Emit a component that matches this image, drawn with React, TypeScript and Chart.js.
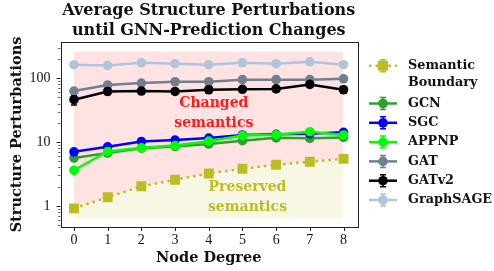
import React, { useEffect, useRef } from 'react';
import { Chart, registerables } from 'chart.js';

Chart.register(...registerables);

// ---------- data ----------
const degrees = [0, 1, 2, 3, 4, 5, 6, 7, 8];
const boundary = [0.91, 1.36, 2.02, 2.56, 3.21, 3.8, 4.39, 4.89, 5.44];
const boundaryErr = [0.03, 0.04, 0.05, 0.05, 0.06, 0.06, 0.07, 0.07, 0.08];
const gcn = [5.6, 6.7, 8.0, 8.5, 9.3, 10.5, 11.6, 11.4, 11.8];
const gcnErr = [0.3, 0.3, 0.3, 0.3, 0.4, 0.4, 0.4, 0.5, 0.5];
const sgc = [7.0, 8.4, 10.2, 10.7, 11.5, 12.9, 13.2, 13.5, 14.2];
const sgcErr = [0.3, 0.3, 0.4, 0.4, 0.4, 0.5, 0.5, 0.5, 0.6];
const appnp = [3.6, 7.1, 8.1, 8.8, 10.3, 12.6, 13.0, 14.5, 12.9];
const appnpErr = [0.2, 0.3, 0.3, 0.3, 0.4, 0.5, 0.5, 0.6, 0.6];
const gat = [63, 78, 84, 88, 88, 95, 95, 95, 98];
const gatErr = [5, 4, 4, 4, 4, 4, 4, 5, 5];
const gatv2 = [46, 62, 63, 62, 66, 67, 68, 80, 66];
const gatv2Err = [8, 7, 5, 5, 6, 6, 6, 8, 8];
const graphsage = [163, 159, 175, 169, 163, 175, 169, 181, 163];
const graphsageErr = [6, 6, 6, 6, 6, 6, 6, 7, 7];

const changedTop = [263, 263, 263, 263, 263, 263, 263, 263, 263];
const preservedBottom = [0.63, 0.63, 0.63, 0.63, 0.63, 0.63, 0.63, 0.63, 0.63];

const yMajorTicks = [1, 10, 100];
const yTickLabels = ['1', '10', '100'];
const yMinorTicks = [0.5, 0.6, 0.7, 0.8, 0.9, 2, 3, 4, 5, 6, 7, 8, 9, 20, 30, 40, 50, 60, 70, 80, 90, 200, 300];
const xTickLabels = ['0', '1', '2', '3', '4', '5', '6', '7', '8'];

const titleLines = ['Average Structure Perturbations', 'until GNN-Prediction Changes'];
const xTitle = 'Node Degree';
const yTitle = 'Structure Perturbations';
const changedText = ['Changed', 'semantics'];
const preservedText = ['Preserved', 'semantics'];

const OLIVE = '#bcbd22';

type Series = { label: string[]; data: number[]; err: number[]; color: string; square?: boolean; dotted?: boolean };
const series: Series[] = [
  { label: ['Semantic', 'Boundary'], data: boundary, err: boundaryErr, color: OLIVE, square: true, dotted: true },
  { label: ['GCN'], data: gcn, err: gcnErr, color: '#2ca02c' },
  { label: ['SGC'], data: sgc, err: sgcErr, color: '#0000ff' },
  { label: ['APPNP'], data: appnp, err: appnpErr, color: '#00ff00' },
  { label: ['GAT'], data: gat, err: gatErr, color: '#708090' },
  { label: ['GATv2'], data: gatv2, err: gatv2Err, color: '#000000' },
  { label: ['GraphSAGE'], data: graphsage, err: graphsageErr, color: '#b0c4de' },
];

const SERIF = '"DejaVu Serif", serif';
const NUMS = '"Liberation Serif", serif';
const AXIS = '#222222';

function drawMarker(ctx: CanvasRenderingContext2D, s: Series, x: number, y: number) {
  ctx.fillStyle = s.color;
  if (s.square) {
    ctx.fillRect(x - 5, y - 5, 10, 10);
  } else {
    ctx.beginPath();
    ctx.arc(x, y, 4.8, 0, Math.PI * 2);
    ctx.fill();
  }
}

const overlay = {
  id: 'overlay',
  beforeDatasetsDraw(chart: any) {
    const ctx: CanvasRenderingContext2D = chart.ctx;
    const xs = chart.scales.x;
    const ys = chart.scales.y;
    ctx.save();
    // annotation texts
    ctx.textAlign = 'center';
    ctx.textBaseline = 'middle';
    ctx.font = `bold 14px ${SERIF}`;
    ctx.fillStyle = '#ff1a1a';
    const cx = xs.getPixelForValue(4.15);
    const cy = ys.getPixelForValue(40);
    ctx.fillText(changedText[0], cx, cy);
    ctx.fillText(changedText[1], cx, cy + 20);
    ctx.fillStyle = OLIVE;
    const px = xs.getPixelForValue(5.15);
    const py = ys.getPixelForValue(1.95);
    ctx.fillText(preservedText[0], px, py);
    ctx.fillText(preservedText[1], px, py + 20);
    // error bars
    ctx.lineWidth = 1.5;
    series.forEach((s) => {
      ctx.strokeStyle = s.color;
      s.data.forEach((v, i) => {
        const x = xs.getPixelForValue(degrees[i]);
        const y1 = ys.getPixelForValue(v - s.err[i]);
        const y2 = ys.getPixelForValue(v + s.err[i]);
        ctx.beginPath();
        ctx.moveTo(x, y1); ctx.lineTo(x, y2);
        ctx.moveTo(x - 3, y1); ctx.lineTo(x + 3, y1);
        ctx.moveTo(x - 3, y2); ctx.lineTo(x + 3, y2);
        ctx.stroke();
      });
    });
    ctx.restore();
  },
  afterDraw(chart: any) {
    const ctx: CanvasRenderingContext2D = chart.ctx;
    const a = chart.chartArea;
    const xs = chart.scales.x;
    const ys = chart.scales.y;
    ctx.save();
    // frame
    ctx.strokeStyle = AXIS;
    ctx.lineWidth = 1;
    ctx.strokeRect(Math.round(a.left) + 0.5, Math.round(a.top) + 0.5, Math.round(a.right - a.left), Math.round(a.bottom - a.top));
    // ticks
    ctx.beginPath();
    degrees.forEach((d) => {
      const x = Math.round(xs.getPixelForValue(d)) + 0.5;
      ctx.moveTo(x, a.bottom); ctx.lineTo(x, a.bottom + 4);
    });
    yMajorTicks.forEach((t) => {
      const y = Math.round(ys.getPixelForValue(t)) + 0.5;
      ctx.moveTo(a.left, y); ctx.lineTo(a.left - 4, y);
    });
    ctx.stroke();
    ctx.lineWidth = 0.7;
    ctx.beginPath();
    yMinorTicks.forEach((t) => {
      const y = Math.round(ys.getPixelForValue(t)) + 0.5;
      ctx.moveTo(a.left, y); ctx.lineTo(a.left - 2.5, y);
    });
    ctx.stroke();

    // tick labels
    ctx.fillStyle = '#111';
    ctx.font = `14px ${NUMS}`;
    ctx.textBaseline = 'middle';
    ctx.textAlign = 'right';
    yMajorTicks.forEach((t, i) => ctx.fillText(yTickLabels[i], a.left - 10, ys.getPixelForValue(t) + 0.5));
    ctx.textAlign = 'center';
    degrees.forEach((d, i) => ctx.fillText(xTickLabels[i], xs.getPixelForValue(d), a.bottom + 13));

    // title
    ctx.font = `bold 16px ${SERIF}`;
    const tcx = (a.left + a.right) / 2;
    ctx.fillText(titleLines[0], tcx, 11);
    ctx.fillText(titleLines[1], tcx, 31);
    // axis titles
    ctx.font = `bold 14.5px ${SERIF}`;
    ctx.fillText(xTitle, tcx, 258);
    ctx.save();
    ctx.translate(17, (a.top + a.bottom) / 2);
    ctx.rotate(-Math.PI / 2);
    ctx.fillText(yTitle, 0, 0);
    ctx.restore();

    // legend
    const lx0 = 369, lx1 = 397, lmx = 383, ltx = 408;
    const rowsY = [65.7, 103.5, 122.8, 142.1, 161.4, 180.7, 200];
    series.forEach((s, i) => {
      const y = rowsY[i];
      ctx.strokeStyle = s.color;
      ctx.lineWidth = 2.5;
      ctx.setLineDash(s.dotted ? [2.5, 4] : []);
      ctx.beginPath();
      ctx.moveTo(lx0, y); ctx.lineTo(lx1, y);
      ctx.stroke();
      ctx.setLineDash([]);
      ctx.lineWidth = 1.5;
      ctx.beginPath();
      ctx.moveTo(lmx, y - 6); ctx.lineTo(lmx, y + 6);
      ctx.moveTo(lmx - 3, y - 6); ctx.lineTo(lmx + 3, y - 6);
      ctx.moveTo(lmx - 3, y + 6); ctx.lineTo(lmx + 3, y + 6);
      ctx.stroke();
      drawMarker(ctx, s, lmx, y);
      ctx.fillStyle = '#111';
      ctx.textAlign = 'left';
      ctx.font = `bold 12.8px ${SERIF}`;
      s.label.forEach((t, j) => ctx.fillText(t, ltx, y + j * 17));
    });
    ctx.restore();
  },
};

export default function App() {
  const ref = useRef<HTMLCanvasElement | null>(null);
  useEffect(() => {
    document.body.style.margin = '0';
    if (!ref.current) return;
    const lineDs = series.map((s, i) => ({
      label: s.label.join(' '),
      data: s.data,
      borderColor: s.color,
      backgroundColor: i === 0 ? 'rgba(188,189,34,0.12)' : s.color,
      borderWidth: 2.5,
      borderDash: s.dotted ? [2.5, 4] : [],
      pointStyle: s.square ? 'rect' : 'circle',
      pointRadius: s.square ? 7 : 4.8,
      pointBorderWidth: 0,
      pointBackgroundColor: s.color,
      fill: i === 0 ? { target: 8 } : false,
      tension: 0,
      order: 20 - i,
    }));
    const fillTop = {
      label: 'changed',
      data: changedTop,
      borderWidth: 0,
      pointRadius: 0,
      borderColor: 'rgba(0,0,0,0)',
      backgroundColor: 'rgba(255,0,0,0.11)',
      fill: { target: 0 },
      order: 100,
    };
    const fillBottom = {
      label: 'preserved',
      data: preservedBottom,
      borderWidth: 0,
      pointRadius: 0,
      borderColor: 'rgba(0,0,0,0)',
      backgroundColor: 'rgba(0,0,0,0)',
      fill: false,
      order: 101,
    };

    const chart = new Chart(ref.current, {
      type: 'line',
      data: { labels: degrees, datasets: [...lineDs, fillTop, fillBottom] as any },
      options: {
        animation: false,
        responsive: false,
        devicePixelRatio: 1,
        layout: { padding: { top: 42, right: 137, left: 0, bottom: 0 } },
        plugins: {
          legend: { display: false },
          title: { display: false },
          tooltip: { enabled: false },
          filler: { drawTime: 'beforeDatasetsDraw' } as any,
        },
        scales: {
          x: {
            type: 'linear',
            min: -0.4,
            max: 8.4,
            afterBuildTicks: (sc: any) => { sc.ticks = degrees.map((v) => ({ value: v })); },
            afterFit: (sc: any) => { sc.height = 44; },
            grid: { display: false },
            border: { display: false },
            ticks: { display: false },
          },
          y: {
            type: 'logarithmic',
            min: 0.464,
            max: 370,
            afterBuildTicks: (sc: any) => { sc.ticks = yMajorTicks.map((v) => ({ value: v, major: true })); },
            afterFit: (sc: any) => { sc.width = 60.5; },
            grid: { display: false },
            border: { display: false },
            ticks: { display: false },
          },
        },
      },
      plugins: [overlay],
    });
    return () => chart.destroy();
  }, []);
  return (
    <div style={{ width: 494, height: 271 }}>
      <canvas ref={ref} width={494} height={271} />
    </div>
  );
}
